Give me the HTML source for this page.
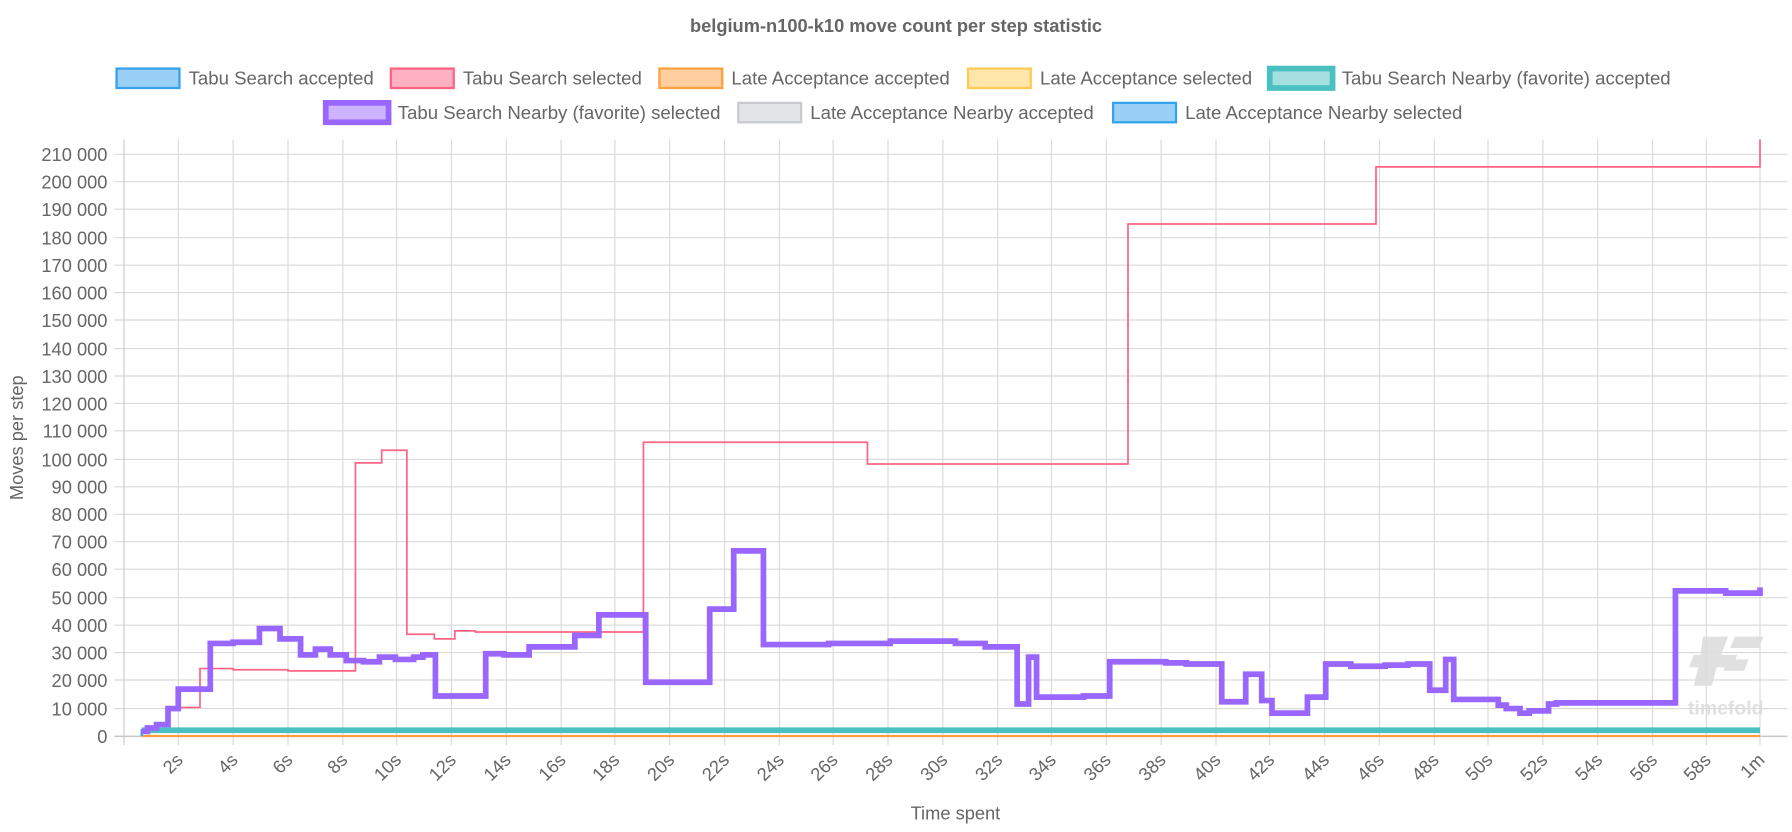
<!DOCTYPE html>
<html><head><meta charset="utf-8"><style>
html,body{margin:0;padding:0;background:#fff;}
svg{display:block;font-family:"Liberation Sans",sans-serif;}
</style></head><body>
<svg width="1792" height="832" viewBox="0 0 1568 728" xmlns="http://www.w3.org/2000/svg">
<text x="784" y="28" text-anchor="middle" font-size="16" font-weight="bold" fill="#666">belgium-n100-k10 move count per step statistic</text>
<g font-size="16.3" fill="#666">
<rect x="102" y="60" width="55" height="17" fill="rgba(54,162,235,0.5)" stroke="#36a2eb" stroke-width="2"/><text x="165" y="74">Tabu Search accepted</text>
<rect x="342" y="60" width="55" height="17" fill="rgba(255,99,132,0.5)" stroke="#ff6384" stroke-width="2"/><text x="405" y="74">Tabu Search selected</text>
<rect x="577" y="60" width="55" height="17" fill="rgba(255,159,64,0.5)" stroke="#ff9f40" stroke-width="2"/><text x="640" y="74">Late Acceptance accepted</text>
<rect x="847" y="60" width="55" height="17" fill="rgba(255,205,86,0.5)" stroke="#ffcd56" stroke-width="2"/><text x="910" y="74">Late Acceptance selected</text>
<rect x="1111" y="60" width="55" height="17" fill="rgba(75,192,192,0.5)" stroke="#4bc0c0" stroke-width="5"/><text x="1174" y="74">Tabu Search Nearby (favorite) accepted</text>
<rect x="285" y="90" width="55" height="17" fill="rgba(153,102,255,0.5)" stroke="#9966ff" stroke-width="5"/><text x="348" y="104">Tabu Search Nearby (favorite) selected</text>
<rect x="646" y="90" width="55" height="17" fill="rgba(201,203,207,0.5)" stroke="#c9cbcf" stroke-width="2"/><text x="709" y="104">Late Acceptance Nearby accepted</text>
<rect x="974" y="90" width="55" height="17" fill="rgba(54,162,235,0.5)" stroke="#36a2eb" stroke-width="2"/><text x="1037" y="104">Late Acceptance Nearby selected</text>
</g>
<g stroke="#d9d9d9" stroke-width="1">
<line x1="100" x2="1564" y1="644" y2="644"/><line x1="100" x2="1564" y1="620" y2="620"/><line x1="100" x2="1564" y1="595" y2="595"/><line x1="100" x2="1564" y1="571" y2="571"/><line x1="100" x2="1564" y1="547" y2="547"/><line x1="100" x2="1564" y1="523" y2="523"/><line x1="100" x2="1564" y1="498" y2="498"/><line x1="100" x2="1564" y1="474" y2="474"/><line x1="100" x2="1564" y1="450" y2="450"/><line x1="100" x2="1564" y1="426" y2="426"/><line x1="100" x2="1564" y1="402" y2="402"/><line x1="100" x2="1564" y1="377" y2="377"/><line x1="100" x2="1564" y1="353" y2="353"/><line x1="100" x2="1564" y1="329" y2="329"/><line x1="100" x2="1564" y1="305" y2="305"/><line x1="100" x2="1564" y1="280" y2="280"/><line x1="100" x2="1564" y1="256" y2="256"/><line x1="100" x2="1564" y1="232" y2="232"/><line x1="100" x2="1564" y1="208" y2="208"/><line x1="100" x2="1564" y1="183" y2="183"/><line x1="100" x2="1564" y1="159" y2="159"/><line x1="100" x2="1564" y1="135" y2="135"/>
<line y1="122" y2="652" x1="156" x2="156"/><line y1="122" y2="652" x1="204" x2="204"/><line y1="122" y2="652" x1="252" x2="252"/><line y1="122" y2="652" x1="300" x2="300"/><line y1="122" y2="652" x1="347" x2="347"/><line y1="122" y2="652" x1="395" x2="395"/><line y1="122" y2="652" x1="443" x2="443"/><line y1="122" y2="652" x1="491" x2="491"/><line y1="122" y2="652" x1="538" x2="538"/><line y1="122" y2="652" x1="586" x2="586"/><line y1="122" y2="652" x1="634" x2="634"/><line y1="122" y2="652" x1="682" x2="682"/><line y1="122" y2="652" x1="729" x2="729"/><line y1="122" y2="652" x1="777" x2="777"/><line y1="122" y2="652" x1="825" x2="825"/><line y1="122" y2="652" x1="873" x2="873"/><line y1="122" y2="652" x1="920" x2="920"/><line y1="122" y2="652" x1="968" x2="968"/><line y1="122" y2="652" x1="1016" x2="1016"/><line y1="122" y2="652" x1="1064" x2="1064"/><line y1="122" y2="652" x1="1111" x2="1111"/><line y1="122" y2="652" x1="1159" x2="1159"/><line y1="122" y2="652" x1="1207" x2="1207"/><line y1="122" y2="652" x1="1255" x2="1255"/><line y1="122" y2="652" x1="1302" x2="1302"/><line y1="122" y2="652" x1="1350" x2="1350"/><line y1="122" y2="652" x1="1398" x2="1398"/><line y1="122" y2="652" x1="1446" x2="1446"/><line y1="122" y2="652" x1="1493" x2="1493"/><line y1="122" y2="652" x1="1540" x2="1540"/>
</g>
<line x1="108.5" x2="108.5" y1="122" y2="652" stroke="#c8c8c8"/>
<line x1="100" x2="1564" y1="644.5" y2="644.5" stroke="#c8c8c8"/>
<g font-size="16" fill="#666" text-anchor="end">
<text x="94" y="650">0</text><text x="94" y="626">10 000</text><text x="94" y="601">20 000</text><text x="94" y="577">30 000</text><text x="94" y="553">40 000</text><text x="94" y="529">50 000</text><text x="94" y="504">60 000</text><text x="94" y="480">70 000</text><text x="94" y="456">80 000</text><text x="94" y="432">90 000</text><text x="94" y="408">100 000</text><text x="94" y="383">110 000</text><text x="94" y="359">120 000</text><text x="94" y="335">130 000</text><text x="94" y="311">140 000</text><text x="94" y="286">150 000</text><text x="94" y="262">160 000</text><text x="94" y="238">170 000</text><text x="94" y="214">180 000</text><text x="94" y="189">190 000</text><text x="94" y="165">200 000</text><text x="94" y="141">210 000</text>
</g>
<g font-size="16" fill="#666" text-anchor="end">
<text transform="translate(161,666) rotate(-45)">2s</text><text transform="translate(209,666) rotate(-45)">4s</text><text transform="translate(257,666) rotate(-45)">6s</text><text transform="translate(305,666) rotate(-45)">8s</text><text transform="translate(352,666) rotate(-45)">10s</text><text transform="translate(400,666) rotate(-45)">12s</text><text transform="translate(448,666) rotate(-45)">14s</text><text transform="translate(496,666) rotate(-45)">16s</text><text transform="translate(543,666) rotate(-45)">18s</text><text transform="translate(591,666) rotate(-45)">20s</text><text transform="translate(639,666) rotate(-45)">22s</text><text transform="translate(687,666) rotate(-45)">24s</text><text transform="translate(734,666) rotate(-45)">26s</text><text transform="translate(782,666) rotate(-45)">28s</text><text transform="translate(830,666) rotate(-45)">30s</text><text transform="translate(878,666) rotate(-45)">32s</text><text transform="translate(925,666) rotate(-45)">34s</text><text transform="translate(973,666) rotate(-45)">36s</text><text transform="translate(1021,666) rotate(-45)">38s</text><text transform="translate(1069,666) rotate(-45)">40s</text><text transform="translate(1116,666) rotate(-45)">42s</text><text transform="translate(1164,666) rotate(-45)">44s</text><text transform="translate(1212,666) rotate(-45)">46s</text><text transform="translate(1260,666) rotate(-45)">48s</text><text transform="translate(1307,666) rotate(-45)">50s</text><text transform="translate(1355,666) rotate(-45)">52s</text><text transform="translate(1403,666) rotate(-45)">54s</text><text transform="translate(1451,666) rotate(-45)">56s</text><text transform="translate(1498,666) rotate(-45)">58s</text><text transform="translate(1545,666) rotate(-45)">1m</text>
</g>
<text x="836" y="717" text-anchor="middle" font-size="16" fill="#666">Time spent</text>
<text transform="translate(20,383) rotate(-90)" text-anchor="middle" font-size="16" fill="#666">Moves per step</text>
<g fill="#ddd" opacity="0.9">
<polygon points="1490,557 1512,557 1506,573 1520,573 1516,584 1502,584 1498,600 1482,600 1486,584 1478,584 1482,573 1488,573"/>
<polygon points="1518,557 1543,557 1539,567 1514,567"/><polygon points="1512,577 1530,577 1526,587 1508,587"/>
<text x="1510" y="625" text-anchor="middle" font-size="17" font-weight="bold">timefold</text>
</g>
<polyline fill="none" stroke="#ff9f40" stroke-width="2" points="124,644 1540,644"/>
<polyline fill="none" stroke="#36a2eb" stroke-width="2" points="124,644 124,638"/>
<polyline fill="none" stroke="#4bc0c0" stroke-width="5" points="124,639 1540,639"/>
<polyline fill="none" stroke="#ff6384" stroke-width="1.5" points="124,640 137,634 147,634 147,619 175,619 175,585 204,585 204,586 252,586 252,587 311,587 311,405 334,405 334,394 356,394 356,555 380,555 380,559 398,559 398,552 416,552 416,553 525,553 563,553 563,387 759,387 759,406 987,406 987,196 1204,196 1204,146 1540,146 1540,122"/>
<polyline fill="none" stroke="#9966ff" stroke-width="5" points="124,640 129,640 129,637 137,637 137,634 147,634 147,620 156,620 156,603 184,603 184,563 204,563 204,562 227,562 227,550 245,550 245,559 263,559 263,573 276,573 276,568 289,568 289,573 303,573 303,578 318,578 318,579 332,579 332,575 346,575 346,577 362,577 362,575 370,575 370,573 381,573 381,609 425,609 425,572 441,572 441,573 463,573 463,566 503,566 503,556 524,556 524,538 565,538 565,597 621,597 621,533 642,533 642,482 668,482 668,564 725,564 725,563 779,563 779,561 836,561 836,563 862,563 862,566 890,566 890,616 900,616 900,575 907,575 907,610 948,610 948,609 971,609 971,579 1020,579 1020,580 1038,580 1038,581 1069,581 1069,614 1090,614 1090,590 1104,590 1104,613 1113,613 1113,624 1144,624 1144,610 1160,610 1160,581 1182,581 1182,583 1212,583 1212,582 1232,582 1232,581 1251,581 1251,604 1265,604 1265,577 1272,577 1272,612 1311,612 1311,617 1318,617 1318,620 1330,620 1330,624 1338,624 1338,622 1355,622 1355,616 1362,616 1362,615 1466,615 1466,517 1510,517 1510,519 1540,519 1540,514"/>
</svg>
</body></html>
